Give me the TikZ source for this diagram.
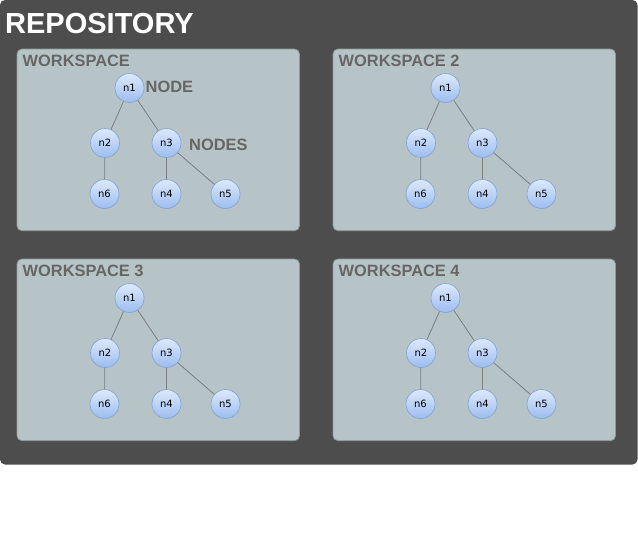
\documentclass[tikz,border=0pt]{standalone}
\usepackage{fontspec}
\setmainfont{Liberation Sans}
\newfontfamily\nodefont{DejaVu Sans}
\definecolor{repobg}{HTML}{4D4D4D}
\definecolor{wsfill}{HTML}{B7C4C7}
\definecolor{wsdraw}{HTML}{8C9A9C}
\definecolor{wstext}{HTML}{666666}
\definecolor{ntop}{HTML}{DDE9FB}
\definecolor{nbot}{HTML}{9BBDF0}
\definecolor{ndraw}{HTML}{86A6D6}
\definecolor{edgecol}{HTML}{7A7F80}
\begin{document}
\begin{tikzpicture}[x=1pt,y=-1pt,
  repo/.style={fill=repobg,rounded corners=5pt},
  wsbox/.style={fill=wsfill,draw=wsdraw,line width=0.8pt,rounded corners=5pt},
  wslabel/.style={anchor=base west,inner sep=0pt,text=wstext,font=\fontsize{16.4}{18}\selectfont\bfseries},
  tnode/.style={circle,minimum size=29pt,inner sep=0pt,top color=ntop,bottom color=nbot,draw=ndraw,line width=0.7pt,font=\nodefont\fontsize{10}{12}\selectfont},
  tedge/.style={draw=edgecol,line width=0.8pt}]
\useasboundingbox (0,0) rectangle (638,552);
\fill[repo] (0,0) rectangle (637.5,464.5);
\node[anchor=base west,inner sep=0pt,text=white,font=\fontsize{29}{32}\selectfont\bfseries] (title) at (5,33.3) {REPOSITORY};
\foreach \dx/\dy/\lab/\k in {0/0/WORKSPACE/a, 316/0/WORKSPACE 2/b, 0/210/WORKSPACE 3/c, 316/210/WORKSPACE 4/d}{
  \begin{scope}[shift={(\dx,\dy)}]
    \draw[wsbox] (17,49) rectangle (299.5,230.7);
    \node[wslabel] (ws\k) at (22.5,66.7) {\lab};
    \node[tnode] (\k n1) at (129.5,88) {n1};
    \node[tnode] (\k n2) at (105,143) {n2};
    \node[tnode] (\k n3) at (166.5,143) {n3};
    \node[tnode] (\k n6) at (104.5,194) {n6};
    \node[tnode] (\k n4) at (166.5,194) {n4};
    \node[tnode] (\k n5) at (225.5,194) {n5};
    \draw[tedge] (\k n1) -- (\k n2);
    \draw[tedge] (\k n1) -- (\k n3);
    \draw[tedge] (\k n2) -- (\k n6);
    \draw[tedge] (\k n3) -- (\k n4);
    \draw[tedge] (\k n3) -- (\k n5);
  \end{scope}
}
\node[wslabel] (nodelab) at (145.5,92.3) {NODE};
\node[wslabel] (nodeslab) at (189,150) {NODES};
\end{tikzpicture}
\end{document}
